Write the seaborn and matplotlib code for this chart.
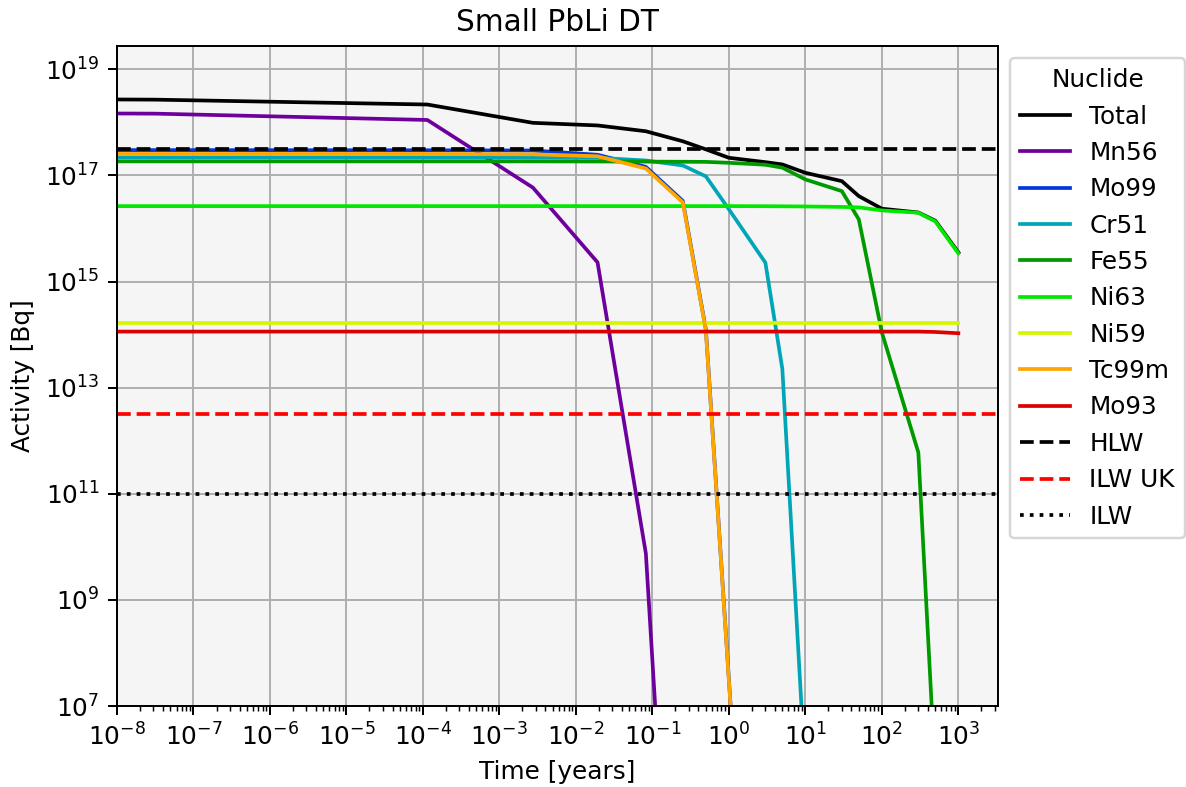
import numpy as np
import matplotlib
matplotlib.use("Agg")
import matplotlib.pyplot as plt
from matplotlib.ticker import LogLocator, NullLocator
import seaborn as sns

# Decay times in years: 1e-8, 1 s, 1 h, 1 d, 1 wk, 1 mo, 3 mo, 6 mo, 1..1000 y
time_years = [1e-8, 3.17e-8, 1.141e-4, 2.738e-3, 1.917e-2, 8.214e-2, 0.25, 0.5,
              1, 3, 5, 10, 30, 50, 100, 300, 500, 1000]

nuclides = ["Total", "Mn56", "Mo99", "Cr51", "Fe55", "Ni63", "Ni59", "Tc99m", "Mo93"]

total = [2.70e18, 2.68e18, 2.17e18, 9.8e17, 8.75e17, 6.8e17, 4.4e17, 3.1e17,
         2.15e17, 1.78e17, 1.61e17, 1.12e17, 7.8e16, 4.07e16, 2.36e16, 2.0e16,
         1.4e16, 3.55e15]
mn56 = [1.47e18, 1.46e18, 1.11e18, 5.9e16, 2.3e15, 7.5e9, 3e-2]
mo99 = [3.0e17, 3.0e17, 2.98e17, 2.95e17, 2.45e17, 1.45e17, 3.3e16, 1.25e14,
        3.2e7, 1.1e-3]
cr51 = [2.18e17, 2.18e17, 2.18e17, 2.17e17, 2.15e17, 1.91e17, 1.54e17, 9.6e16,
        2.3e16, 2.27e15, 2.25e13, 5e5]
fe55 = [1.84e17, 1.84e17, 1.84e17, 1.84e17, 1.83e17, 1.82e17, 1.81e17, 1.80e17,
        1.73e17, 1.59e17, 1.40e17, 8.4e16, 5.06e16, 1.48e16, 1.1e14, 6e11, 5e5]
ni63 = [2.64e16, 2.64e16, 2.64e16, 2.64e16, 2.64e16, 2.64e16, 2.64e16, 2.64e16,
        2.64e16, 2.63e16, 2.62e16, 2.60e16, 2.55e16, 2.50e16, 2.19e16, 1.98e16,
        1.36e16, 3.4e15]
ni59 = [1.68e14] * 18
mo93 = [1.14e14] * 16 + [1.12e14, 1.06e14]
tc99m = [2.54e17, 2.54e17, 2.54e17, 2.50e17, 2.30e17, 1.35e17, 3.1e16, 1.2e14,
         3e7, 1e-3]

series = [total, mn56, mo99, cr51, fe55, ni63, ni59, tc99m, mo93]

# Waste category thresholds [Bq]
limit_names = ["HLW", "ILW UK", "ILW"]
limit_values = [3.2e17, 3.2e12, 1.0e11]
limit_colors = ["black", "red", "black"]
limit_styles = ["--", "--", ":"]

W, H, DPI = 1186, 787, 178
fig, ax = plt.subplots(figsize=(W / DPI, H / DPI), dpi=DPI)
fig.subplots_adjust(left=117 / W, right=998 / W, top=1 - 46 / H, bottom=1 - 706 / H)
ax.set_facecolor("whitesmoke")
ax.set_xscale("log")
ax.set_yscale("log")

colors = plt.get_cmap("nipy_spectral")(np.linspace(0, 0.9, len(nuclides)))
for name, vals, col in zip(nuclides, series, colors):
    sns.lineplot(x=time_years[:len(vals)], y=vals, color=col, label=name,
                 linewidth=1.5, ax=ax)

for name, val, col, ls in zip(limit_names, limit_values, limit_colors, limit_styles):
    ax.axhline(val, color=col, linestyle=ls, linewidth=1.5, label=name)

ax.set_xlim(1e-8, 3.3e3)
ax.set_ylim(1e7, 2.75e19)
ax.set_xticks(10.0 ** np.arange(-8, 4))
ax.xaxis.set_minor_locator(LogLocator(base=10, subs=np.arange(2, 10), numticks=100))
ax.set_yticks(10.0 ** np.arange(7, 20, 2))
ax.yaxis.set_minor_locator(NullLocator())

ax.grid(True, which="major", color="#b0b0b0", linewidth=0.8)
ax.set_title("Small PbLi DT")
ax.set_xlabel("Time [years]")
ax.set_ylabel("Activity [Bq]")
ax.legend(title="Nuclide", loc="upper left", bbox_to_anchor=(1, 1))

fig.savefig("out.png", dpi=DPI)
